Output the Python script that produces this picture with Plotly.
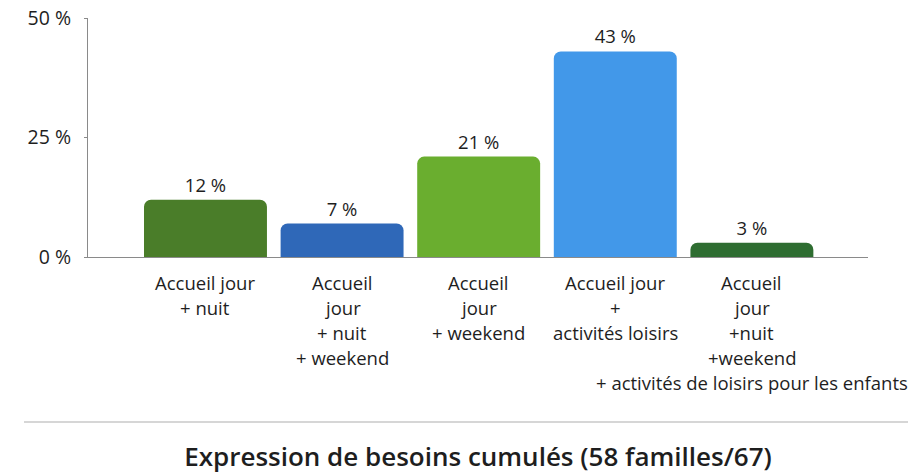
import plotly.graph_objects as go

categories = ["c1", "c2", "c3", "c4", "c5"]
label_lines = [
    ["Accueil jour", "+ nuit"],
    ["Accueil", "jour", "+ nuit", "+ weekend"],
    ["Accueil", "jour", "+ weekend"],
    ["Accueil jour", "+", "activités loisirs"],
    ["Accueil", "jour", "+nuit", "+weekend", "+ activités de loisirs pour les enfants"],
]
values = [12, 7, 21, 43, 3]
colors = ["#4a7d29", "#2f68b8", "#6aae2f", "#4298e9", "#2e6d31"]
y_ticks = [0, 25, 50]
y_ticktext = ["0 %", "25 %", "50 %"]
title = "Expression de besoins cumulés (58 familles/67)"

FONT = "Open Sans"
TXT = "#1e1e1e"

W, H = 921, 473
ML, MR, MT, MB = 88, 53, 18, 216
plot_w = W - ML - MR
plot_h = H - MT - MB
axis_bottom = H - MB

fig = go.Figure(go.Bar(
    x=categories, y=values,
    marker=dict(color=colors, cornerradius=7, line=dict(width=0)),
    text=[f"{v} %" for v in values], textposition="outside",
    textfont=dict(family=FONT, size=18.5, color=TXT),
    cliponaxis=False,
))

annotations = []
for cat, lines in zip(categories, label_lines):
    for k, line in enumerate(lines):
        annotations.append(dict(
            x=cat, y=0, xref="x", yref="y", text=line, showarrow=False,
            xanchor="center", yanchor="middle", yshift=-(25 + 25 * k),
            font=dict(family=FONT, size=18.5, color=TXT),
        ))

sep_y = -(422 - axis_bottom) / plot_h

fig.update_layout(
    width=W, height=H,
    margin=dict(l=ML, r=MR, t=MT, b=MB, autoexpand=False),
    paper_bgcolor="white", plot_bgcolor="white",
    bargap=0.1, showlegend=False,
    xaxis=dict(range=[-0.86, 4.85], showticklabels=False, showgrid=False, automargin=False,
               showline=True, linecolor="#8a8a8a", linewidth=1, ticks="", zeroline=False),
    yaxis=dict(range=[0, 50], tickvals=y_ticks, ticktext=y_ticktext, showgrid=False,
               automargin=False,
               showline=True, linecolor="#8a8a8a", linewidth=1, ticks="outside",
               ticklen=3, tickcolor="#8a8a8a", zeroline=False,
               tickfont=dict(family=FONT, size=19.5, color=TXT), ticklabelstandoff=9),
    annotations=annotations,
    title=dict(text=title, x=0.5, xref="paper", xanchor="center",
               y=1 - 457 / H, yref="container", yanchor="middle",
               font=dict(family=FONT, size=26, color=TXT, weight=600)),
    shapes=[dict(type="line", xref="paper", yref="paper",
                 x0=(24 - ML) / plot_w, x1=(908 - ML) / plot_w,
                 y0=sep_y, y1=sep_y,
                 line=dict(color="#c8c8c8", width=1.5))],
)

fig.write_html(
    "out.html",
    config={"displayModeBar": False},
    post_script="document.body.style.margin='0';document.body.style.overflow='hidden';",
)
